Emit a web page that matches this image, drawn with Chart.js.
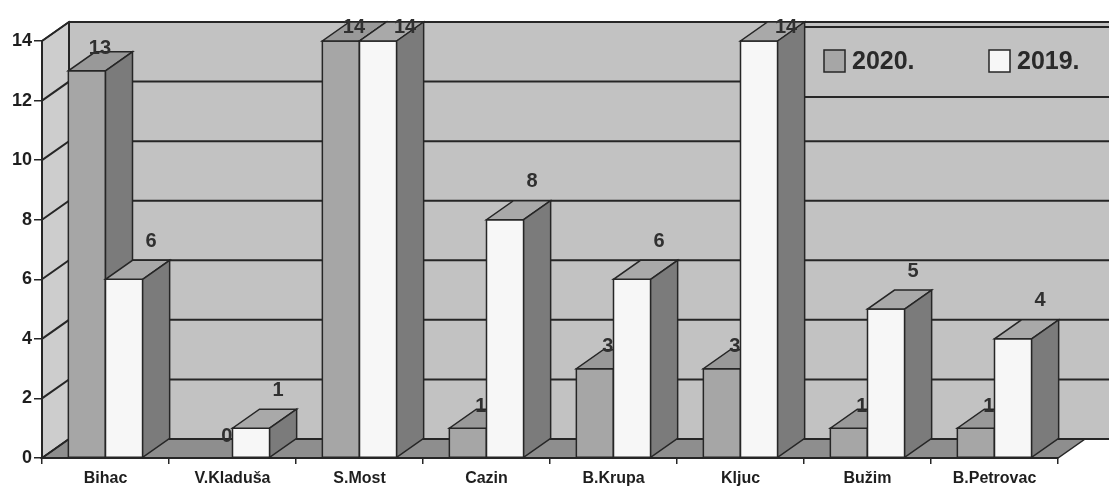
<!DOCTYPE html>
<html>
<head>
<meta charset="utf-8">
<script src="https://cdn.jsdelivr.net/npm/chart.js@4/dist/chart.umd.min.js"></script>
<style>
  html, body { margin: 0; padding: 0; background: #fff; }
</style>
</head>
<body>
<canvas id="myChart" width="1109" height="493"></canvas>
<script>
// data
const towns = ['Bihac', 'V.Kladuša', 'S.Most', 'Cazin', 'B.Krupa', 'Kljuc', 'Bužim', 'B.Petrovac'];
const year2020 = [13, 0, 14, 1, 3, 3, 1, 1];
const year2019 = [6, 1, 14, 8, 6, 14, 5, 4];
const seriesNames = ['2020.', '2019.'];
const yMax = 14;
const yStep = 2;

// 3d look
const DX = 27, DY = 19;
const FONT = '"Liberation Sans", Arial, sans-serif';
const wallColor = '#c2c2c2';
const sideWallColor = '#cdcdcd';
const floorColor = '#8e8e8e';
const lineColor = '#262626';
const faces = [
  { front: '#a6a6a6', top: '#999999', side: '#7b7b7b' },   // 2020
  { front: '#f7f7f7', top: '#a9a9a9', side: '#7b7b7b' }    // 2019
];

function poly(ctx, pts, fill) {
  ctx.beginPath();
  ctx.moveTo(pts[0][0], pts[0][1]);
  for (let i = 1; i < pts.length; i++) ctx.lineTo(pts[i][0], pts[i][1]);
  ctx.closePath();
  ctx.fillStyle = fill;
  ctx.fill();
  ctx.stroke();
}

// walls + floor + gridlines on the back wall
const room = {
  id: 'room',
  beforeDraw(chart) {
    const ctx = chart.ctx;
    const ca = chart.chartArea;
    const ys = chart.scales.y;
    const W = chart.width;
    ctx.save();
    ctx.strokeStyle = lineColor;
    ctx.lineWidth = 1.5;
    ctx.fillStyle = wallColor;
    ctx.fillRect(ca.left + DX, ca.top - DY, W - ca.left - DX, ca.bottom - ca.top);
    poly(ctx, [[ca.left, ca.bottom], [ca.left, ca.top], [ca.left + DX, ca.top - DY], [ca.left + DX, ca.bottom - DY]], sideWallColor);
    poly(ctx, [[ca.left, ca.bottom], [ca.right, ca.bottom], [ca.right + DX, ca.bottom - DY], [ca.left + DX, ca.bottom - DY]], floorColor);

    ctx.lineWidth = 2;
    ys.ticks.forEach(t => {
      const yy = ys.getPixelForValue(t.value);
      ctx.beginPath();
      ctx.moveTo(ca.left, yy);
      ctx.lineTo(ca.left + DX, yy - DY);
      ctx.lineTo(W, yy - DY);
      ctx.stroke();
    });
    ctx.beginPath();
    ctx.moveTo(ca.left + DX, ca.top - DY);
    ctx.lineTo(ca.left + DX, ca.bottom - DY);
    ctx.stroke();
    ctx.restore();
  },
  beforeDatasetsDraw(chart) {
    // legend box sits on the back wall, behind the bars
    const ctx = chart.ctx;
    ctx.save();
    ctx.strokeStyle = lineColor;
    ctx.lineWidth = 2;
    ctx.fillStyle = wallColor;
    ctx.fillRect(790, 27, 340, 70);
    ctx.strokeRect(790, 27, 340, 70);
    ctx.font = 'bold 25px ' + FONT;
    ctx.textBaseline = 'middle';
    ctx.lineWidth = 1.5;
    const xs = [824, 989];
    chart.data.datasets.forEach((ds, i) => {
      ctx.fillStyle = faces[i].front;
      ctx.fillRect(xs[i], 50, 21, 22);
      ctx.strokeRect(xs[i], 50, 21, 22);
      ctx.fillStyle = '#2a2a2a';
      ctx.fillText(ds.label, xs[i] + 28, 62);
    });
    ctx.restore();
  },
  afterDatasetsDraw(chart) {
    const ctx = chart.ctx;
    const metas = [chart.getDatasetMeta(0), chart.getDatasetMeta(1)];
    ctx.save();
    ctx.strokeStyle = lineColor;
    ctx.lineWidth = 1.5;
    ctx.font = 'bold 20px ' + FONT;
    ctx.textAlign = 'center';
    ctx.textBaseline = 'middle';
    for (let i = 0; i < towns.length; i++) {
      for (let d = 0; d < 2; d++) {
        const el = metas[d].data[i];
        const val = chart.data.datasets[d].data[i];
        const l = el.x - el.width / 2, r = el.x + el.width / 2;
        const top = el.y, base = el.base;
        if (val > 0) {
          poly(ctx, [[l, top], [r, top], [r, base], [l, base]], faces[d].front);
          poly(ctx, [[l, top], [r, top], [r + DX, top - DY], [l + DX, top - DY]], faces[d].top);
          poly(ctx, [[r, top], [r + DX, top - DY], [r + DX, base - DY], [r, base]], faces[d].side);
        }
        ctx.fillStyle = '#303030';
        if (d === 0) {
          ctx.fillText(String(val), el.x + 13, Math.max(top - 22, 27));
        } else {
          ctx.fillText(String(val), el.x + 27, Math.max(top - 38, 27));
        }
      }
    }
    ctx.restore();
  }
};

const ctx = document.getElementById('myChart').getContext('2d');
const myChart = new Chart(ctx, {
  type: 'bar',
  data: {
    labels: towns,
    datasets: [
      { label: seriesNames[0], data: year2020, backgroundColor: faces[0].front, borderColor: lineColor, borderWidth: 1.5 },
      { label: seriesNames[1], data: year2019, backgroundColor: faces[1].front, borderColor: lineColor, borderWidth: 1.5 }
    ]
  },
  options: {
    responsive: false,
    animation: false,
    events: [],
    layout: { padding: { top: 41, right: 51, left: 0, bottom: 0 } },
    categoryPercentage: 0.585,
    barPercentage: 1.0,
    plugins: { legend: { display: false }, tooltip: { enabled: false } },
    scales: {
      x: {
        afterFit(scale) { scale.height = 35; },
        grid: { offset: true, drawOnChartArea: false, tickLength: 6, color: lineColor, lineWidth: 1.5 },
        border: { display: true, color: lineColor, width: 2 },
        ticks: { color: '#1e1e1e', padding: 5, font: { family: FONT, size: 16, weight: 'bold' } }
      },
      y: {
        min: 0,
        max: yMax,
        afterFit(scale) { scale.width = 42; },
        grid: { drawOnChartArea: false, tickLength: 8, color: lineColor, lineWidth: 1.5 },
        border: { display: true, color: lineColor, width: 2 },
        ticks: { stepSize: yStep, color: '#1e1e1e', padding: 2, font: { family: FONT, size: 18, weight: 'bold' } }
      }
    }
  },
  plugins: [room]
});
</script>
</body>
</html>
